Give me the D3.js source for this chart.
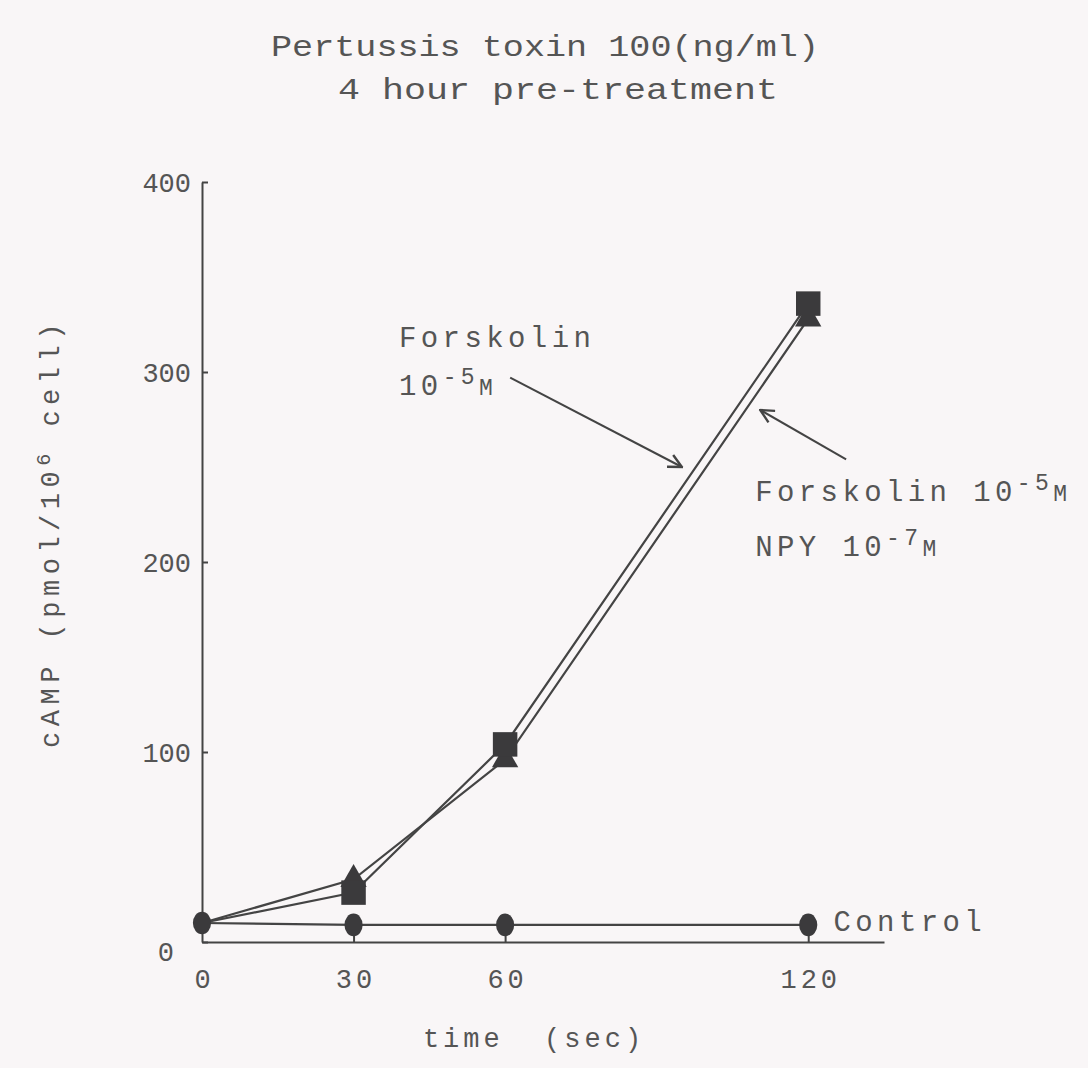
<!DOCTYPE html>
<html>
<head>
<meta charset="utf-8">
<script src="https://cdn.jsdelivr.net/npm/d3@7"></script>
<style>
  html, body { margin: 0; padding: 0; background: #f9f6f7; }
  svg { display: block; }
  text { font-family: "Liberation Mono", "DejaVu Sans Mono", monospace; fill: #555; }
</style>
</head>
<body>
<svg id="chart" width="1088" height="1068"></svg>
<script>
  "use strict";

  // values (time in sec, cAMP in pmol/10^6 cell)
  var timePoints = [0, 30, 60, 120];
  var controlValues = [10, 9, 9, 9];
  var forskolinValues = [10, 26, 104, 336];
  var forskolinNpyValues = [10, 33, 96, 328];

  var xTicks = [0, 30, 60, 120];
  var yTicks = [0, 100, 200, 300, 400];

  var titleLines = ["Pertussis toxin 100(ng/ml)", "4 hour pre-treatment"];

  var svg = d3.select("#chart");
  var ink = "#444";

  var x = d3.scaleLinear().domain([0, 135]).range([202, 884]);
  var y = d3.scaleLinear().domain([0, 400]).range([942, 182]);

  // titles
  svg.append("text")
    .attr("x", 545).attr("y", 56)
    .attr("text-anchor", "middle")
    .attr("font-size", 30)
    .attr("textLength", 548).attr("lengthAdjust", "spacingAndGlyphs")
    .text(titleLines[0]);
  svg.append("text")
    .attr("x", 558).attr("y", 99)
    .attr("text-anchor", "middle")
    .attr("font-size", 30)
    .attr("textLength", 440).attr("lengthAdjust", "spacingAndGlyphs")
    .text(titleLines[1]);

  // axes
  var yAxis = svg.append("g")
    .attr("transform", "translate(" + x(0) + ",0)")
    .call(d3.axisLeft(y).tickValues(yTicks).tickSizeInner(-6).tickSizeOuter(0).tickPadding(11));
  var xAxis = svg.append("g")
    .attr("transform", "translate(0," + y(0) + ")")
    .call(d3.axisBottom(x).tickValues(xTicks).tickSizeInner(-8).tickSizeOuter(0).tickPadding(27));

  [yAxis, xAxis].forEach(function (g) {
    g.select(".domain").attr("stroke", ink).attr("stroke-width", 2);
    g.selectAll(".tick line").attr("stroke", ink).attr("stroke-width", 2);
    g.selectAll(".tick text")
      .attr("font-size", 27)
      .attr("fill", "#555");
  });
  yAxis.selectAll(".tick text").attr("dy", "0.36em").attr("letter-spacing", 0);
  // the zero label sits lower and further left in the original
  yAxis.selectAll(".tick").filter(function (d) { return d === 0; })
    .select("text").attr("x", -28).attr("dy", "0.7em");
  xAxis.selectAll(".tick").filter(function (d) { return d === 0; })
    .select("line").remove();
  xAxis.selectAll(".tick text").attr("dy", "0.71em").attr("dx", 2).attr("letter-spacing", 4);

  // axis titles
  svg.append("text")
    .attr("x", 534).attr("y", 1047)
    .attr("text-anchor", "middle")
    .attr("font-size", 27).attr("letter-spacing", 4)
    .attr("xml:space", "preserve")
    .text("time  (sec)");

  var yTitle = svg.append("text")
    .attr("transform", "translate(59,533) rotate(-90)")
    .attr("text-anchor", "middle")
    .attr("font-size", 27).attr("letter-spacing", 5.5);
  yTitle.append("tspan").text("cAMP (pmol/10");
  yTitle.append("tspan").attr("font-size", 20).attr("dy", -9).text("6");
  yTitle.append("tspan").attr("dy", 9).text(" cell)");

  // lines
  var line = d3.line()
    .x(function (d) { return x(d[0]); })
    .y(function (d) { return y(d[1]); });

  function pairs(values) {
    return timePoints.map(function (t, i) { return [t, values[i]]; });
  }

  [controlValues, forskolinNpyValues, forskolinValues].forEach(function (vals) {
    svg.append("path")
      .datum(pairs(vals))
      .attr("d", line)
      .attr("fill", "none")
      .attr("stroke", ink)
      .attr("stroke-width", 2.2);
  });

  // markers
  var marker = "#3b3a3c";
  svg.append("g").selectAll("path")
    .data(pairs(forskolinNpyValues).slice(1))
    .join("path")
    .attr("transform", function (d) { return "translate(" + x(d[0]) + "," + y(d[1]) + ")"; })
    .attr("d", d3.symbol(d3.symbolTriangle, 300))
    .attr("fill", marker);
  svg.append("g").selectAll("path")
    .data(pairs(forskolinValues).slice(1))
    .join("path")
    .attr("transform", function (d) { return "translate(" + x(d[0]) + "," + y(d[1]) + ")"; })
    .attr("d", d3.symbol(d3.symbolSquare, 600))
    .attr("fill", marker);
  svg.append("g").selectAll("path")
    .data(pairs(controlValues))
    .join("path")
    .attr("transform", function (d) { return "translate(" + x(d[0]) + "," + y(d[1]) + ") scale(0.9,1.12)"; })
    .attr("d", d3.symbol(d3.symbolCircle, 320))
    .attr("fill", marker);

  // annotations (positions in data units)
  svg.append("defs").append("marker")
    .attr("id", "head")
    .attr("viewBox", "0 0 12 12")
    .attr("refX", 11).attr("refY", 6)
    .attr("markerWidth", 16).attr("markerHeight", 16)
    .attr("markerUnits", "userSpaceOnUse")
    .attr("orient", "auto")
    .append("path")
    .attr("d", "M1,1 L11,6 L1,11")
    .attr("fill", "none")
    .attr("stroke", ink)
    .attr("stroke-width", 1.8);

  var arrows = [
    { from: [61, 297], to: [95, 250] },
    { from: [127.5, 254], to: [110.5, 280] }
  ];
  svg.append("g").selectAll("line")
    .data(arrows)
    .join("line")
    .attr("x1", function (d) { return x(d.from[0]); })
    .attr("y1", function (d) { return y(d.from[1]); })
    .attr("x2", function (d) { return x(d.to[0]); })
    .attr("y2", function (d) { return y(d.to[1]); })
    .attr("stroke", ink)
    .attr("stroke-width", 2)
    .attr("marker-end", "url(#head)");

  function label(tx, ty, parts) {
    var t = svg.append("text")
      .attr("x", x(tx)).attr("y", y(ty))
      .attr("font-size", 29).attr("letter-spacing", 4.4)
      .attr("xml:space", "preserve");
    parts.forEach(function (p) {
      var s = t.append("tspan").text(p.text);
      if (p.sup) s.attr("font-size", 23).attr("dy", -11);
      if (p.down) s.attr("dy", 11).attr("font-size", 23);
    });
    return t;
  }

  label(39, 313, [{ text: "Forskolin" }]);
  label(39, 288, [{ text: "10" }, { text: "-5", sup: true }, { text: "M", down: true }]);
  label(109.5, 232, [{ text: "Forskolin " }, { text: "10" }, { text: "-5", sup: true }, { text: "M", down: true }]);
  label(109.5, 203, [{ text: "NPY " }, { text: "10" }, { text: "-7", sup: true }, { text: "M", down: true }]);
  label(125, 6, [{ text: "Control" }]);
</script>
</body>
</html>
